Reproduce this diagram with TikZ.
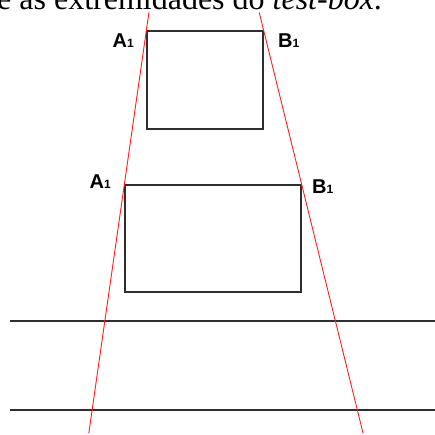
\documentclass[tikz,border=0pt]{standalone}
\usepackage{fontspec}
\setmainfont{Liberation Serif}
\setsansfont{Liberation Sans}
\usetikzlibrary{calc}
\definecolor{framegray}{HTML}{2E2E2E}
\definecolor{rayred}{HTML}{FF2020}
\newcommand{\lblidx}[1]{{\fontsize{12}{12}\selectfont #1}}

\begin{document}
\begin{tikzpicture}[
  x=1pt, y=-1pt,
  frame/.style={draw=framegray, line width=1.3pt, inner sep=0pt},
  ray/.style={draw=rayred, line width=0.9pt},
  ground/.style={draw=framegray, line width=1.3pt},
  corner/.style={font=\sffamily\bfseries\fontsize{20}{20}\selectfont, inner sep=0pt}
]
  \useasboundingbox (0,0) rectangle (435,434);
  \clip (0,0) rectangle (435,434);

  \node[anchor=base west, inner sep=0pt, font=\fontsize{32}{32}\selectfont] (caption) at (-3,9)
    {e as extremidades do \textit{test-box}.};

  \node[frame, minimum width=116pt, minimum height=98pt] (near) at (205,80) {};
  \node[frame, minimum width=176pt, minimum height=107pt] (far) at (213,238.5) {};

  \node[corner, anchor=base east] (nearA) at (134,47) {A\lblidx{1}};
  \node[corner, anchor=base west] (nearB) at (278,47) {B\lblidx{1}};
  \node[corner, anchor=base east] (farA) at (111,188) {A\lblidx{1}};
  \node[corner, anchor=base west] (farB) at (312,193) {B\lblidx{1}};

  \coordinate (lineOneL) at (10,321);
  \coordinate (lineOneR) at (435,321);
  \coordinate (lineTwoL) at (10,410);
  \coordinate (lineTwoR) at (435,410);
  \draw[ground] (lineOneL) -- (lineOneR);
  \draw[ground] (lineTwoL) -- (lineTwoR);

  \draw[ray] ($(near.north west)!-0.117!(far.north west)$) -- ($(near.north west)!2.617!(far.north west)$);
  \draw[ray] ($(near.north east)!-0.117!(far.north east)$) -- ($(near.north east)!2.617!(far.north east)$);
\end{tikzpicture}
\end{document}
